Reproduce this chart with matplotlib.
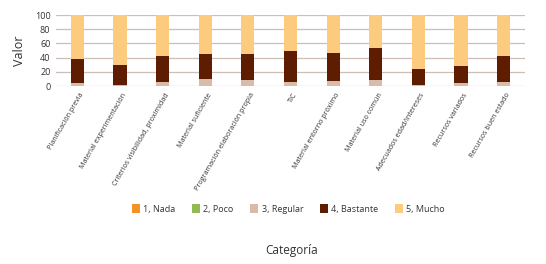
import numpy as np
import matplotlib.pyplot as plt
import matplotlib.transforms as mtransforms

plt.rcParams['font.family'] = ['Open Sans', 'DejaVu Sans']

categorias = ['Planificación previa', 'Material experimentación',
              'Criterios visibilidad, proximidad', 'Material suficiente',
              'Programación elaboración propia', 'TIC',
              'Material entorno próximo', 'Material uso común',
              'Adecuados edad/intereses', 'Recursos variados',
              'Recursos buen estado']

series = ['1, Nada', '2, Poco', '3, Regular', '4, Bastante', '5, Mucho']
nada = [0, 0, 0, 0, 0, 0, 0, 0, 0, 0, 0]
poco = [0, 0, 0, 0, 0, 0, 0, 0, 0, 0, 0]
regular = [4, 2, 6, 10, 8, 6, 7, 9, 1, 4, 6]
bastante = [34, 28, 36, 35, 37, 43, 39, 45, 23, 24, 37]
mucho = [62, 70, 58, 55, 55, 51, 54, 46, 76, 72, 57]

colores = ['#F39325', '#93BA52', '#D9BBAA', '#5E1C00', '#FDCB7E']

fig = plt.figure(figsize=(5.46, 2.64), dpi=100)
ax = fig.add_axes([0.1026, 0.674, 0.859, 0.269])

x = np.arange(len(categorias))
base = np.zeros(len(categorias))
for nombre, vals, c in zip(series, [nada, poco, regular, bastante, mucho], colores):
    ax.bar(x, vals, bottom=base, width=0.31, color=c, label=nombre, zorder=3)
    base += np.array(vals)

ax.set_xlim(-0.5, len(categorias) - 0.5)
ax.set_ylim(0, 100)
ax.set_yticks(range(0, 101, 20))
ax.yaxis.grid(True, color='#CDBFB8', linewidth=0.9, zorder=0)
ax.tick_params(axis='y', labelsize=6.5, length=0, pad=4, colors='#333333')
ax.tick_params(axis='x', length=0, pad=4)
ax.set_xticks(x)
ax.set_xticklabels(categorias, rotation=60, ha='right', va='center',
                   fontsize=5.1, rotation_mode='anchor', color='#333333')
desplaz = mtransforms.ScaledTranslation(5 / 100, -2 / 100, fig.dpi_scale_trans)
for lab in ax.get_xticklabels():
    lab.set_transform(lab.get_transform() + desplaz)
for s in ax.spines.values():
    s.set_visible(False)
ax.set_ylabel('Valor', fontsize=9, labelpad=6, color='#333333')

fig.legend(loc='center', bbox_to_anchor=(0.528, 0.208), ncol=5, frameon=False,
           fontsize=6.5, handlelength=0.9, handleheight=1.1, columnspacing=1.8,
           handletextpad=0.4, labelcolor='#333333')
fig.text(0.535, 0.05, 'Categoría', ha='center', va='center', fontsize=8.5,
         color='#333333')

fig.savefig('out.png', dpi=100)
